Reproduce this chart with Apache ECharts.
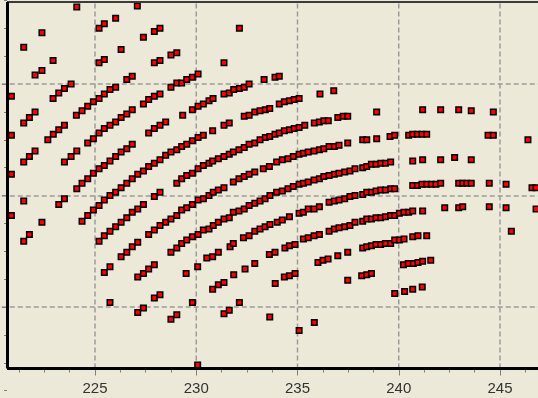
<!DOCTYPE html>
<html><head><meta charset="utf-8">
<script src="https://cdn.jsdelivr.net/npm/echarts@6/dist/echarts.min.js"></script>
<style>html,body{margin:0;padding:0;background:#ECE9D8;}#c{width:538px;height:398px;}</style>
</head><body><div id="c"></div>
<script>
// ---- data (x, y) ----
const topLeftPts = [
 [224.10,3.69],[227.09,3.70],[226.02,3.59],[225.20,3.50],[225.46,3.54],[222.38,3.46],[227.93,3.47],[228.21,3.50],
 [221.48,3.33],[227.39,3.42],[226.29,3.31],[225.20,3.19],[225.46,3.22],[222.93,3.21],[227.93,3.19],[228.21,3.21],
 [228.75,3.26],[229.04,3.28],[222.04,3.08],[222.38,3.12],[226.57,3.04],[226.84,3.07],[220.87,2.89],
 [222.93,2.87],[223.21,2.92],[223.49,2.96],[223.82,3.00],[228.75,2.97],[229.04,3.01],
 [225.20,2.87],[225.46,2.91],[225.74,2.95],[226.02,2.97],[224.08,2.72],[224.36,2.76],[224.64,2.80],[224.92,2.84],
 [227.39,2.82],[227.65,2.86],[227.93,2.89],[228.21,2.91],[221.48,2.65],[221.76,2.70],[222.04,2.75],[223.49,2.63],
 [225.74,2.63],[226.02,2.66],[226.29,2.70],[226.57,2.73],[226.84,2.77],[228.21,2.63],[228.49,2.66]
];
const midLeftPts = [
 [220.87,2.54],[222.67,2.50],[222.94,2.55],[223.21,2.59],[224.64,2.47],[224.92,2.51],[225.20,2.56],[225.46,2.60],
 [227.65,2.56],[227.93,2.60],[221.48,2.30],[221.76,2.35],[222.04,2.40],[223.49,2.30],[223.82,2.35],[224.10,2.40],
 [224.10,2.06],[224.36,2.11],[224.64,2.15],[224.92,2.20],[225.20,2.24],[225.46,2.27],[225.74,2.31],[226.02,2.35],
 [226.29,2.39],[226.57,2.42],[226.84,2.46],[220.87,2.19],[229.04,2.11],
 [224.36,1.77],[224.64,1.82],[224.92,1.87],[225.20,1.91],[225.46,1.96],[225.74,2.00],[226.02,2.03],[226.29,2.07],
 [226.57,2.11],[226.84,2.15],[227.11,2.19],[227.39,2.22],[227.65,2.26],[227.93,2.29],[228.21,2.32],[228.49,2.36],
 [228.75,2.39],[229.04,2.41],[221.48,1.95],[223.21,1.92],[223.49,1.97],[227.93,1.99],[228.21,2.03],[220.87,1.82],
 [222.38,1.76],[225.20,1.59],[225.46,1.64],[225.74,1.68],[226.02,1.72],[226.29,1.76],[226.57,1.80],[226.84,1.85],
 [227.11,1.88],[227.39,1.92],[221.48,1.59],[221.76,1.65],
 [227.65,1.65],[227.93,1.69],[228.21,1.73],[228.49,1.76],[228.75,1.79],[229.04,1.82],
 [226.29,1.45],[226.57,1.49],[226.84,1.54],[227.11,1.58],[228.75,1.49],[229.04,1.53]
];
const lowLeftPts = [
 [225.46,1.31],[225.74,1.36],[227.11,1.27],[227.39,1.30],[227.65,1.34],[227.93,1.38],[225.74,1.04],
 [227.11,0.95],[227.39,0.99],[227.93,1.08],[228.21,1.11],[228.75,0.89],[229.04,0.93]
];
const topMidPts = [
 [232.13,3.50],[231.37,3.19],[229.28,3.01],[229.53,3.04],[229.81,3.06],[230.09,3.09],[233.35,3.04],[233.89,3.06],[234.10,3.07],
 [229.33,2.72],[229.81,2.77],[230.09,2.80],[230.35,2.82],[230.63,2.85],[230.83,2.87],
 [231.37,2.91],[231.63,2.92],[231.85,2.95],[232.13,2.96],[232.37,2.97],[232.61,3.00],[236.11,2.91],[236.79,2.94],
 [232.37,2.71],[232.61,2.72],[232.89,2.75],[233.15,2.76],[233.41,2.77],[233.63,2.78],
 [234.10,2.82],[234.35,2.84],[234.60,2.85],[234.84,2.86],[235.08,2.87],[231.37,2.63],[231.63,2.65],
 [235.83,2.65],[236.08,2.66],[236.30,2.67],[236.52,2.67],[236.99,2.70],[237.26,2.71],[237.48,2.71]
];
const bandA = [[229.28,2.44],[229.53,2.46],[229.81,2.49],[230.09,2.52],[230.35,2.54],[230.81,2.58]];
const bandB = [
 [229.28,2.15],[229.53,2.18],[229.81,2.20],[230.09,2.24],[230.35,2.27],[230.63,2.29],[230.81,2.31],[231.09,2.33],
 [231.37,2.35],[231.63,2.37],[231.83,2.39],[232.11,2.41],[232.37,2.43],[232.61,2.46],[232.89,2.47],[233.15,2.50],
 [233.41,2.52],[233.63,2.53],[233.89,2.55],[234.10,2.56],[234.35,2.58],[234.60,2.59],[234.84,2.60],[235.08,2.61],[235.36,2.63]
];
const bandC = [
 [229.28,1.87],[229.53,1.89],[229.81,1.92],[230.09,1.96],[230.35,1.97],[230.63,2.00],[230.84,2.03],[231.09,2.05],
 [231.37,2.07],[231.83,2.12],[232.11,2.15],[232.37,2.17],[232.61,2.19],[232.89,2.21],[233.31,2.24],[233.61,2.26],
 [233.97,2.30],[234.25,2.32],[234.53,2.33],[234.79,2.35],[235.08,2.37],[235.29,2.38],[235.53,2.39],[235.82,2.40],
 [236.08,2.41],[236.30,2.42],[236.56,2.44],[236.82,2.44],[237.05,2.45],[237.48,2.47]
];
const bandD = [
 [229.28,1.57],[229.53,1.60],[229.81,1.63],[230.09,1.65],[230.35,1.69],[230.63,1.70],[230.84,1.73],[231.09,1.76],
 [231.37,1.79],[231.63,1.80],[231.83,1.85],[232.11,1.86],[232.37,1.88],[232.61,1.91],[232.89,1.93],[233.15,1.95],
 [233.40,1.97],[233.64,2.00],[233.97,2.03],[234.25,2.04],[234.53,2.06],[234.79,2.08],[235.08,2.10],[235.29,2.11],
 [235.53,2.12],[235.82,2.14],[236.08,2.15],[236.30,2.17],[236.56,2.18],[236.82,2.19],[237.05,2.20],[237.33,2.21],
 [237.59,2.22],[237.84,2.24]
];
const bandE = [
 [230.52,1.44],[230.81,1.45],[231.09,1.49],[231.67,1.54],[231.83,1.57],[232.33,1.62],[232.61,1.64],[232.89,1.68],
 [233.15,1.70],[233.40,1.72],[233.64,1.74],[234.00,1.76],[234.25,1.78],[234.60,1.81],[235.08,1.84],[235.29,1.85],
 [235.53,1.88],[235.82,1.88],[236.08,1.90],[236.56,1.94],[236.82,1.95],[237.05,1.96],[237.33,1.97],[237.59,1.99],[237.84,2.00]
];
const bandF = [
 [233.61,1.47],[233.89,1.49],[234.38,1.53],[234.60,1.55],[234.88,1.56],[235.29,1.61],[235.53,1.62],[235.82,1.64],
 [236.08,1.65],[236.56,1.68],[236.82,1.70],[237.05,1.71],[237.33,1.72],[237.59,1.73],[237.84,1.76],[236.99,1.46],[237.48,1.49]
];
const lowMidPts = [
 [229.50,1.30],[230.07,1.36],[230.81,1.16],[231.09,1.20],[231.37,1.22],[231.85,1.29],[232.41,1.34],[232.89,1.39],
 [229.81,1.04],[231.37,0.94],[231.63,0.97],[232.13,1.04],[233.63,0.91],[233.90,1.21],[234.35,1.27],[234.60,1.28],
 [234.88,1.30],[235.08,0.79],[235.83,0.86],[236.01,1.40],[236.26,1.42],[236.51,1.43],[237.48,1.24],[230.07,0.48]
];
const topRightPts = [[238.91,2.75],[241.18,2.77],[242.07,2.77],[242.96,2.77],[243.58,2.76],[244.67,2.75]];
const rightRow1 = [
 [238.22,2.50],[238.42,2.50],[238.91,2.51],[239.57,2.53],[239.80,2.54],[240.49,2.54],[240.69,2.55],[240.92,2.55],
 [241.15,2.55],[241.38,2.55],[244.41,2.54],[244.67,2.54],[246.38,2.50]
];
const rightRow2 = [
 [238.22,2.25],[238.42,2.26],[238.65,2.28],[238.88,2.28],[239.11,2.29],[239.34,2.29],[239.60,2.30],[240.69,2.31],
 [241.18,2.32],[242.07,2.32],[242.76,2.34],[243.58,2.32]
];
const rightRow3 = [
 [238.22,2.01],[238.42,2.03],[238.65,2.03],[238.88,2.04],[239.11,2.05],[239.34,2.05],[239.60,2.06],[239.80,2.06],
 [240.69,2.09],[240.92,2.09],[241.15,2.10],[241.38,2.10],[241.61,2.10],[241.84,2.10],[242.07,2.11],[242.96,2.11],
 [243.16,2.11],[243.36,2.11],[243.58,2.11],[244.47,2.11],[245.30,2.10],[246.58,2.07],[246.78,2.07]
];
const rightRow4 = [
 [238.22,1.77],[238.42,1.79],[238.65,1.79],[238.88,1.80],[239.11,1.80],[239.34,1.81],[239.60,1.82],[239.80,1.82],
 [240.03,1.84],[240.26,1.85],[240.49,1.85],[240.69,1.86],[241.18,1.86],[242.27,1.89],[242.96,1.89],[243.16,1.90],
 [244.47,1.90],[245.30,1.89],[246.78,1.88],[245.56,1.68]
];
const rightRow5 = [
 [238.22,1.53],[238.42,1.54],[238.65,1.55],[238.88,1.56],[239.11,1.56],[239.34,1.57],[239.60,1.57],[239.80,1.60],
 [240.03,1.60],[240.26,1.61],[240.69,1.63],[240.95,1.64],[241.38,1.64]
];
const lowRightPts = [
 [238.17,1.28],[238.42,1.29],[238.65,1.30],[240.23,1.38],[240.47,1.39],[240.72,1.39],[240.95,1.40],[241.18,1.41],
 [241.58,1.42],[239.80,1.12],[240.29,1.14],[240.69,1.16],[241.16,1.18]
];
const xGridValues = [225, 230, 235, 240, 245];
// visible frame of the plot in data units
const frameLeft = 220.654, frameRight = 250, frameBottom = 0.448, frameTop = 3.735;

const allPts = [].concat(topLeftPts, midLeftPts, lowLeftPts, topMidPts, bandA, bandB, bandC, bandD, bandE, bandF,
  lowMidPts, topRightPts, rightRow1, rightRow2, rightRow3, rightRow4, rightRow5, lowRightPts);

const chart = echarts.init(document.getElementById('c'), null, {renderer: 'canvas'});
const dashStyle = () => ({color: '#9a9a9a', width: 1.5, type: [5, 3]});
const gridSeries = xGridValues.map(v => ({
  type: 'line', data: [[v, frameBottom], [v, frameTop]], symbol: 'none', silent: true, z: 1,
  lineStyle: dashStyle(), animation: false
}));
const ml = (a, b, color, width) => [
  {coord: a, lineStyle: {color: color, width: width, type: 'solid'}},
  {coord: b}
];
chart.setOption({
  backgroundColor: '#ECE9D8',
  animation: false,
  grid: {left: -6.25, right: -63.25, top: -27.5, bottom: -20.5, containLabel: false, outerBoundsMode: 'none'},
  xAxis: {
    type: 'value', min: 220, max: 250, interval: 5, offset: -50,
    axisLine: {show: false, onZero: false},
    axisTick: {show: true, length: 7, lineStyle: {color: '#808080', width: 1}},
    minorTick: {show: true, splitNumber: 4, length: 4, lineStyle: {color: '#808080', width: 1}},
    splitLine: {show: false},
    axisLabel: {showMinLabel: false, showMaxLabel: false, color: '#333', fontSize: 15,
      fontFamily: 'Liberation Sans, Arial, sans-serif', margin: 13}
  },
  yAxis: {
    type: 'value', min: 0, max: 4, interval: 1, offset: -13.25,
    axisLine: {show: false, onZero: false},
    axisTick: {show: true, length: 5, lineStyle: {color: '#808080', width: 1}},
    minorTick: {show: true, splitNumber: 4, length: 3, lineStyle: {color: '#808080', width: 1}},
    splitLine: {show: true, lineStyle: dashStyle()},
    axisLabel: {show: false}
  },
  series: [
    ...gridSeries,
    {
      type: 'scatter', data: allPts, symbol: 'rect', symbolSize: 5.5, z: 3,
      itemStyle: {color: '#ff0000', borderColor: '#000', borderWidth: 1.5, opacity: 1},
      emphasis: {disabled: true}, animation: false,
      markLine: {
        silent: true, symbol: ['none', 'none'], label: {show: false}, animation: false,
        emphasis: {disabled: true},
        data: [
          ml([frameLeft, frameTop], [frameRight, frameTop], '#3c3c3c', 2),
          ml([frameLeft, frameBottom], [frameLeft, frameTop], '#000', 3),
          ml([frameLeft, frameBottom], [frameRight, frameBottom], '#000', 3)
        ]
      }
    }
  ]
});
</script></body></html>
